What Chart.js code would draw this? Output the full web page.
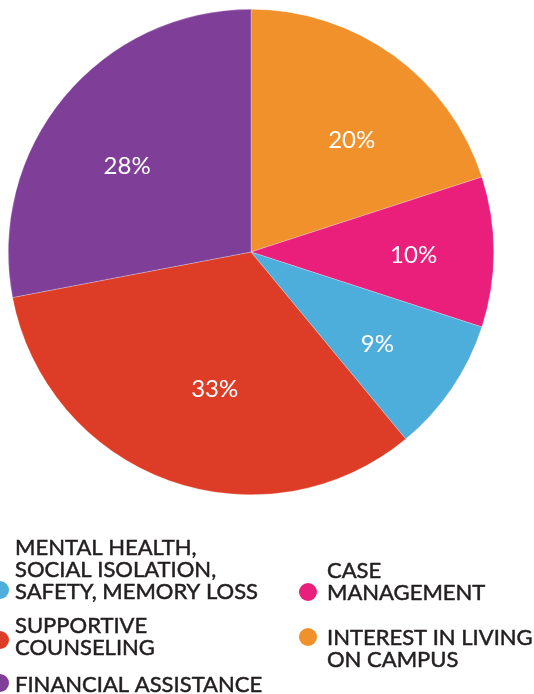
<!DOCTYPE html>
<html>
<head>
<meta charset="utf-8">
<script src="https://cdn.jsdelivr.net/npm/chart.js@4"></script>
<style>
  html, body { margin: 0; padding: 0; background: #fff; }
  #wrap { width: 534px; height: 694px; }
</style>
</head>
<body>
<div id="wrap"><canvas id="needsPie"></canvas></div>
<script>
const categories = [
  "INTEREST IN LIVING ON CAMPUS",
  "CASE MANAGEMENT",
  "MENTAL HEALTH, SOCIAL ISOLATION, SAFETY, MEMORY LOSS",
  "SUPPORTIVE COUNSELING",
  "FINANCIAL ASSISTANCE",
];
const shares = [20, 10, 9, 33, 28];
const sliceColors = ["#f0912b", "#e91f7b", "#4eaedb", "#dd3d26", "#7f3f98"];

// legend text broken the way the printed legend breaks it
const legendLines = [
  ["INTEREST IN LIVING", "ON CAMPUS"],
  ["CASE", "MANAGEMENT"],
  ["MENTAL HEALTH,", "SOCIAL ISOLATION,", "SAFETY, MEMORY LOSS"],
  ["SUPPORTIVE", "COUNSELING"],
  ["FINANCIAL ASSISTANCE"],
];

const FONT = "Lato, 'Noto Sans', sans-serif";

// percentage labels inside the slices
const sliceLabels = {
  id: "sliceLabels",
  afterDatasetsDraw(chart) {
    const ctx = chart.ctx;
    const meta = chart.getDatasetMeta(0);
    // small hand nudges like the printed piece
    const turn = [6, 1, 2, -5, -5];
    const depth = [0.62, 0.67, 0.645, 0.585, 0.62];
    ctx.save();
    ctx.fillStyle = "#fff";
    ctx.font = "24px " + FONT;
    ctx.textAlign = "center";
    ctx.textBaseline = "middle";
    meta.data.forEach((arc, i) => {
      const mid = (arc.startAngle + arc.endAngle) / 2 + (turn[i] * Math.PI) / 180;
      const r = arc.outerRadius * depth[i];
      ctx.fillText(shares[i] + "%", arc.x + Math.cos(mid) * r, arc.y + Math.sin(mid) * r);
    });
    ctx.restore();
  },
};

// two-column legend under the pie
const sideLegend = {
  id: "sideLegend",
  afterDraw(chart) {
    const ctx = chart.ctx;
    ctx.save();
    ctx.font = "22px " + FONT;
    ctx.textBaseline = "alphabetic";
    ctx.lineWidth = 0.5;
    const lineH = 22;
    // marker x, marker y, text x, first baseline
    const slots = {
      2: [0, 590, 15, 555],
      3: [0, 640, 15, 633],
      4: [0, 683, 15, 692],
      1: [308, 592, 327, 578],
      0: [308, 637, 327, 645],
    };
    Object.keys(slots).forEach((k) => {
      const i = Number(k);
      const [mx, my, tx, base] = slots[i];
      ctx.fillStyle = "#231f20";
      ctx.strokeStyle = "#231f20";
      legendLines[i].forEach((t, j) => {
        ctx.fillText(t, tx, base + j * lineH);
        ctx.strokeText(t, tx, base + j * lineH);
      });
      ctx.beginPath();
      ctx.fillStyle = sliceColors[i];
      ctx.arc(mx, my, 9, 0, Math.PI * 2);
      ctx.fill();
    });
    ctx.restore();
  },
};

const pieChart = new Chart(document.getElementById("needsPie"), {
  type: "pie",
  data: {
    labels: categories,
    datasets: [
      {
        data: shares,
        backgroundColor: sliceColors,
        borderColor: "rgba(255,255,255,0.5)",
        borderWidth: 0.5,
      },
    ],
  },
  options: {
    responsive: true,
    maintainAspectRatio: false,
    animation: false,
    layout: { padding: { left: 8, right: 40, top: 8, bottom: 198 } },
    plugins: {
      legend: { display: false },
      tooltip: { enabled: false },
    },
  },
  plugins: [sliceLabels, sideLegend],
});
</script>
</body>
</html>
